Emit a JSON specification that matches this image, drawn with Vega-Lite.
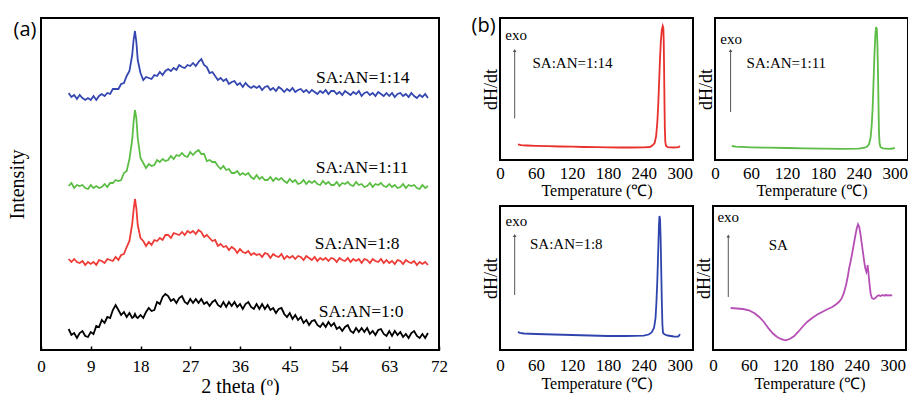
{
"$schema":"https://vega.github.io/schema/vega-lite/v6.json",
"background":"white",
"padding":{"left":6,"top":15,"right":0,"bottom":0},
"datasets":{
"xrd":[
{"t":5,"b":257,"g":164,"r":91,"k":21},{"t":5.5,"b":253,"g":167,"r":88,"k":15},{"t":6,"b":255,"g":162,"r":91,"k":17},{"t":6.5,"b":251,"g":165,"r":88,"k":12},{"t":7,"b":255,"g":164,"r":87,"k":17},{"t":7.5,"b":252,"g":165,"r":89,"k":19},{"t":8,"b":250,"g":162,"r":85,"k":14},{"t":8.5,"b":252,"g":161,"r":88,"k":13},{"t":9,"b":250,"g":165,"r":86,"k":18},{"t":9.5,"b":254,"g":162,"r":88,"k":16},
{"t":10,"b":250,"g":164,"r":85,"k":24},{"t":10.5,"b":254,"g":162,"r":90,"k":23},{"t":11,"b":256,"g":163,"r":89,"k":30},{"t":11.5,"b":254,"g":166,"r":87,"k":27},{"t":12,"b":257,"g":163,"r":91,"k":33},{"t":12.5,"b":256,"g":167,"r":90,"k":32},{"t":13,"b":261,"g":167,"r":89,"k":40},{"t":13.5,"b":261,"g":170,"r":93,"k":45},{"t":14,"b":261,"g":169,"r":90,"k":40},{"t":14.5,"b":266,"g":170,"r":95,"k":35},
{"t":15,"b":267,"g":177,"r":96,"k":38},{"t":15.5,"b":274,"g":179,"r":103,"k":33},{"t":16,"b":279,"g":191,"r":109,"k":37},{"t":16.5,"b":295,"g":210,"r":126,"k":32},{"t":16.75,"b":310,"g":228,"r":140,"k":33},{"t":17,"b":319,"g":240,"r":151,"k":36},{"t":17.25,"b":308,"g":232,"r":142,"k":33},{"t":17.5,"b":290,"g":212,"r":125,"k":32},{"t":18,"b":277,"g":192,"r":112,"k":35},{"t":18.5,"b":270,"g":187,"r":109,"k":32},
{"t":19,"b":273,"g":182,"r":104,"k":38},{"t":19.5,"b":272,"g":186,"r":108,"k":42},{"t":20,"b":271,"g":184,"r":105,"k":39},{"t":20.5,"b":275,"g":185,"r":110,"k":40},{"t":21,"b":274,"g":190,"r":109,"k":48},{"t":21.5,"b":278,"g":188,"r":112,"k":46},{"t":22,"b":275,"g":191,"r":110,"k":53},{"t":22.5,"b":279,"g":189,"r":115,"k":56},{"t":23,"b":281,"g":190,"r":115,"k":54},{"t":23.5,"b":279,"g":194,"r":112,"k":49},
{"t":24,"b":282,"g":191,"r":117,"k":51},{"t":24.5,"b":280,"g":195,"r":116,"k":47},{"t":25,"b":285,"g":194,"r":115,"k":52},{"t":25.5,"b":283,"g":197,"r":118,"k":54},{"t":26,"b":282,"g":194,"r":115,"k":48},{"t":26.5,"b":285,"g":193,"r":119,"k":46},{"t":27,"b":284,"g":198,"r":117,"k":51},{"t":27.5,"b":287,"g":195,"r":119,"k":47},{"t":28,"b":284,"g":198,"r":116,"k":51},{"t":28.5,"b":288,"g":200,"r":120,"k":47},
{"t":29,"b":291,"g":196,"r":118,"k":51},{"t":29.5,"b":285,"g":196,"r":113,"k":46},{"t":30,"b":283,"g":189,"r":115,"k":48},{"t":30.5,"b":277,"g":190,"r":112,"k":44},{"t":31,"b":278,"g":188,"r":109,"k":48},{"t":31.5,"b":274,"g":188,"r":110,"k":50},{"t":32,"b":270,"g":184,"r":104,"k":45},{"t":32.5,"b":272,"g":181,"r":106,"k":43},{"t":33,"b":269,"g":184,"r":103,"k":48},{"t":33.5,"b":271,"g":180,"r":104,"k":43},
{"t":34,"b":266,"g":181,"r":100,"k":48},{"t":34.5,"b":268,"g":177,"r":103,"k":44},{"t":35,"b":269,"g":177,"r":101,"k":48},{"t":35.5,"b":265,"g":179,"r":97,"k":43},{"t":36,"b":267,"g":175,"r":101,"k":46},{"t":36.5,"b":263,"g":177,"r":98,"k":41},{"t":37,"b":267,"g":175,"r":97,"k":46},{"t":37.5,"b":264,"g":177,"r":99,"k":48},{"t":38,"b":262,"g":173,"r":95,"k":43},{"t":38.5,"b":264,"g":171,"r":97,"k":41},
{"t":39,"b":262,"g":175,"r":95,"k":46},{"t":39.5,"b":264,"g":171,"r":96,"k":41},{"t":40,"b":260,"g":173,"r":93,"k":46},{"t":40.5,"b":263,"g":170,"r":97,"k":41},{"t":41,"b":264,"g":170,"r":96,"k":45},{"t":41.5,"b":260,"g":173,"r":92,"k":40},{"t":42,"b":262,"g":169,"r":96,"k":42},{"t":42.5,"b":259,"g":172,"r":94,"k":37},{"t":43,"b":263,"g":170,"r":93,"k":41},{"t":43.5,"b":261,"g":172,"r":96,"k":42},
{"t":44,"b":258,"g":169,"r":91,"k":36},{"t":44.5,"b":261,"g":167,"r":94,"k":33},{"t":45,"b":259,"g":171,"r":92,"k":37},{"t":45.5,"b":262,"g":168,"r":94,"k":31},{"t":46,"b":258,"g":170,"r":91,"k":35},{"t":46.5,"b":260,"g":166,"r":94,"k":30},{"t":47,"b":261,"g":167,"r":93,"k":33},{"t":47.5,"b":258,"g":170,"r":90,"k":27},{"t":48,"b":260,"g":166,"r":94,"k":30},{"t":48.5,"b":257,"g":169,"r":92,"k":25},
{"t":49,"b":260,"g":167,"r":90,"k":29},{"t":49.5,"b":258,"g":169,"r":93,"k":30},{"t":50,"b":256,"g":166,"r":89,"k":25},{"t":50.5,"b":259,"g":165,"r":92,"k":23},{"t":51,"b":257,"g":169,"r":90,"k":27},{"t":51.5,"b":260,"g":166,"r":92,"k":23},{"t":52,"b":256,"g":168,"r":89,"k":28},{"t":52.5,"b":259,"g":165,"r":92,"k":24},{"t":53,"b":259,"g":165,"r":91,"k":27},{"t":53.5,"b":256,"g":168,"r":88,"k":21},
{"t":54,"b":258,"g":164,"r":92,"k":23},{"t":54.5,"b":255,"g":167,"r":90,"k":19},{"t":55,"b":259,"g":166,"r":89,"k":23},{"t":55.5,"b":257,"g":168,"r":92,"k":25},{"t":56,"b":255,"g":165,"r":88,"k":19},{"t":56.5,"b":258,"g":164,"r":91,"k":17},{"t":57,"b":256,"g":168,"r":89,"k":22},{"t":57.5,"b":259,"g":165,"r":91,"k":18},{"t":58,"b":254,"g":166,"r":87,"k":22},{"t":58.5,"b":257,"g":163,"r":91,"k":18},
{"t":59,"b":258,"g":164,"r":90,"k":22},{"t":59.5,"b":255,"g":167,"r":87,"k":16},{"t":60,"b":257,"g":163,"r":91,"k":19},{"t":60.5,"b":254,"g":166,"r":89,"k":15},{"t":61,"b":258,"g":165,"r":88,"k":20},{"t":61.5,"b":256,"g":167,"r":91,"k":21},{"t":62,"b":254,"g":164,"r":87,"k":16},{"t":62.5,"b":257,"g":163,"r":90,"k":14},{"t":63,"b":254,"g":166,"r":87,"k":19},{"t":63.5,"b":257,"g":163,"r":89,"k":14},
{"t":64,"b":253,"g":165,"r":86,"k":19},{"t":64.5,"b":256,"g":162,"r":90,"k":15},{"t":65,"b":257,"g":163,"r":89,"k":18},{"t":65.5,"b":254,"g":166,"r":86,"k":13},{"t":66,"b":256,"g":162,"r":90,"k":16},{"t":66.5,"b":253,"g":165,"r":88,"k":12},{"t":67,"b":257,"g":164,"r":87,"k":17},{"t":67.5,"b":254,"g":165,"r":89,"k":19},{"t":68,"b":252,"g":162,"r":85,"k":14},{"t":68.5,"b":255,"g":161,"r":88,"k":12},
{"t":69,"b":253,"g":165,"r":86,"k":16},{"t":69.5,"b":256,"g":162,"r":88,"k":12},{"t":70,"b":252,"g":164,"r":85,"k":17}
],
"d1":[{"T":30,"v":15.6},{"T":35,"v":14.8},{"T":45,"v":14.5},{"T":60,"v":14.2},{"T":80,"v":13.8},{"T":100,"v":13.5},{"T":120,"v":13.3},{"T":140,"v":13},{"T":160,"v":12.8},{"T":180,"v":12.6},{"T":200,"v":12.5},{"T":220,"v":12.5},{"T":240,"v":12.6},{"T":250,"v":13},{"T":254,"v":14.5},{"T":258,"v":17},{"T":260.5,"v":24},{"T":262.5,"v":38},{"T":264,"v":55},{"T":265.5,"v":78},{"T":267,"v":102},{"T":268.5,"v":120},{"T":270,"v":130},{"T":271.5,"v":134},{"T":272.5,"v":132},{"T":273.2,"v":118},{"T":273.8,"v":90},{"T":274.4,"v":58},{"T":275,"v":32},{"T":275.8,"v":18},{"T":277,"v":14},{"T":280,"v":12.8},{"T":290,"v":12.5},{"T":298,"v":12.8},{"T":300,"v":14}],
"d2":[{"T":28,"v":14},{"T":35,"v":13.3},{"T":60,"v":12.7},{"T":90,"v":12.3},{"T":120,"v":12},{"T":150,"v":11.6},{"T":180,"v":11.3},{"T":210,"v":11.2},{"T":240,"v":11.3},{"T":250,"v":12.3},{"T":254,"v":13.5},{"T":257,"v":16},{"T":259.5,"v":22},{"T":261.5,"v":35},{"T":263,"v":52},{"T":264.5,"v":78},{"T":266,"v":105},{"T":267.5,"v":125},{"T":268.8,"v":133},{"T":270,"v":131},{"T":271,"v":115},{"T":272,"v":85},{"T":272.8,"v":55},{"T":273.5,"v":30},{"T":274.5,"v":17},{"T":276,"v":13},{"T":280,"v":11.6},{"T":290,"v":11.2},{"T":297,"v":11.5},{"T":300,"v":12.5}],
"d3":[{"T":30,"v":18.3},{"T":33,"v":17},{"T":40,"v":16.5},{"T":60,"v":16},{"T":90,"v":15.5},{"T":120,"v":15},{"T":150,"v":14.5},{"T":180,"v":14},{"T":210,"v":14},{"T":240,"v":14.3},{"T":248,"v":15.5},{"T":253,"v":17.5},{"T":257,"v":22},{"T":259.5,"v":32},{"T":261,"v":48},{"T":262.5,"v":70},{"T":264,"v":100},{"T":265.2,"v":125},{"T":266,"v":134},{"T":267,"v":131},{"T":268,"v":112},{"T":269,"v":80},{"T":270,"v":48},{"T":271,"v":25},{"T":272,"v":17},{"T":275,"v":15.5},{"T":280,"v":14.5},{"T":290,"v":13.5},{"T":297,"v":13.3},{"T":299,"v":14.5},{"T":300,"v":16}],
"d4":[{"T":29.5,"v":42},{"T":40,"v":41.5},{"T":50,"v":41},{"T":60,"v":39.7},{"T":70,"v":36.5},{"T":77,"v":33},{"T":85,"v":28},{"T":93,"v":21.3},{"T":100,"v":16.5},{"T":107,"v":13},{"T":114,"v":10.8},{"T":121,"v":9.7},{"T":128,"v":11},{"T":135,"v":13.7},{"T":142,"v":18},{"T":149,"v":23},{"T":157,"v":28},{"T":166,"v":32.3},{"T":174,"v":35.5},{"T":182,"v":38},{"T":190,"v":40.5},{"T":199,"v":43},{"T":205,"v":45.5},{"T":210,"v":48},{"T":214,"v":51},{"T":218,"v":56.3},{"T":222,"v":65},{"T":225,"v":74},{"T":227,"v":81.3},{"T":229,"v":87},{"T":232,"v":96},{"T":235,"v":106},{"T":238,"v":116},{"T":240,"v":122},{"T":242,"v":125.7},{"T":244,"v":123},{"T":246,"v":116},{"T":249,"v":103},{"T":252,"v":89.7},{"T":254,"v":82},{"T":256,"v":78},{"T":257,"v":80},{"T":258,"v":85},{"T":259,"v":79},{"T":260,"v":73},{"T":261.5,"v":64},{"T":263,"v":56.3},{"T":265,"v":52},{"T":268,"v":51},{"T":271,"v":52},{"T":274,"v":54},{"T":277,"v":54.7},{"T":280,"v":54},{"T":283,"v":55},{"T":286,"v":54.2},{"T":288,"v":55},{"T":292,"v":54.5},{"T":296,"v":54.8},{"T":299,"v":54.3}]
},
"hconcat":[
{
"width":398,"height":332,
"layer":[
{"data":{"name":"xrd"},"transform":[{"fold":["b","g","r","k"],"as":["s","v"]}],
 "mark":{"type":"line","strokeWidth":1.8,"clip":true},
 "encoding":{
  "x":{"field":"t","type":"quantitative","scale":{"domain":[0,72],"nice":false,"zero":false},
       "axis":{"title":"2 theta (º)","values":[0,9,18,27,36,45,54,63,72],"tickCount":9,"tickSize":-4,"tickColor":"#000","tickWidth":1.5,"labelFontSize":17,"labelPadding":12,"labelOverlap":false,"titleFontSize":20,"titlePadding":2}},
  "y":{"field":"v","type":"quantitative","scale":{"domain":[0,332],"nice":false,"zero":false},
       "axis":{"title":"Intensity","labels":false,"ticks":false,"titleFontSize":20,"titlePadding":14}},
  "color":{"field":"s","type":"nominal","scale":{"domain":["b","g","r","k"],"range":["#3446b0","#5cbd45","#ef3b36","#000000"]},"legend":null}
 }},
{"data":{"values":[{"t":58.2,"v":272,"lab":"SA:AN=1:14"},{"t":58.1,"v":182,"lab":"SA:AN=1:11"},{"t":57.2,"v":106,"lab":"SA:AN=1:8"},{"t":57.9,"v":38,"lab":"SA:AN=1:0"}]},
 "mark":{"type":"text","fontSize":17.5,"font":"Liberation Serif","color":"#000"},
 "encoding":{"x":{"field":"t","type":"quantitative"},"y":{"field":"v","type":"quantitative"},"text":{"field":"lab"}}},
{"data":{"values":[{"t":-2.9,"v":320,"lab":"(a)"}]},
 "mark":{"type":"text","fontSize":20,"font":"Open Sans","color":"#000"},
 "encoding":{"x":{"field":"t","type":"quantitative"},"y":{"field":"v","type":"quantitative"},"text":{"field":"lab"}}}
]
},
{
"vconcat":[
{"hconcat":[
{"width":193,"height":142,
 "layer":[
 {"data":{"name":"d1"},"mark":{"type":"line","color":"#e8302c","strokeWidth":1.8},
  "encoding":{"x":{"field":"T","type":"quantitative","scale":{"domain":[0,322],"nice":false,"zero":false},"axis":{"title":"Temperature (℃)","values":[0,60,120,180,240,300],"tickCount":6,"ticks":false,"labelFontSize":17,"labelPadding":5,"labelOverlap":false,"titleFontSize":16,"titlePadding":1}},
              "y":{"field":"v","type":"quantitative","scale":{"domain":[0,142],"nice":false,"zero":false},"axis":{"title":"dH/dt","labels":false,"ticks":false,"titleFontSize":18,"titlePadding":0}}}},
 {"data":{"values":[{"T":24.5,"v":41.6,"v2":109}]},"mark":{"type":"rule","color":"#555","strokeWidth":1},"encoding":{"x":{"field":"T","type":"quantitative"},"y":{"field":"v","type":"quantitative"},"y2":{"field":"v2"}}},
 {"data":{"values":[{"T":24.5,"v":109.5}]},"mark":{"type":"point","shape":"triangle-up","filled":true,"color":"#555","size":14,"opacity":1},"encoding":{"x":{"field":"T","type":"quantitative"},"y":{"field":"v","type":"quantitative"}}},
 {"data":{"values":[{"T":27,"v":125,"s":"exo"},{"T":121,"v":97,"s":"SA:AN=1:14"}]},"mark":{"type":"text","font":"Liberation Serif","color":"#000","fontSize":15},"encoding":{"x":{"field":"T","type":"quantitative"},"y":{"field":"v","type":"quantitative"},"text":{"field":"s"}}},
 {"data":{"values":[{"T":-27.5,"v":133.8,"s":"(b)"}]},"mark":{"type":"text","font":"Open Sans","color":"#000","fontSize":20},"encoding":{"x":{"field":"T","type":"quantitative"},"y":{"field":"v","type":"quantitative"},"text":{"field":"s"}}}
 ]},
{"width":193,"height":142,
 "layer":[
 {"data":{"name":"d2"},"mark":{"type":"line","color":"#5cbc46","strokeWidth":1.8},
  "encoding":{"x":{"field":"T","type":"quantitative","scale":{"domain":[0,322],"nice":false,"zero":false},"axis":{"title":"Temperature (℃)","values":[0,60,120,180,240,300],"tickCount":6,"ticks":false,"labelFontSize":17,"labelPadding":5,"labelOverlap":false,"titleFontSize":16,"titlePadding":1}},
              "y":{"field":"v","type":"quantitative","scale":{"domain":[0,142],"nice":false,"zero":false},"axis":{"title":"dH/dt","labels":false,"ticks":false,"titleFontSize":18,"titlePadding":0}}}},
 {"data":{"values":[{"T":26,"v":48,"v2":109}]},"mark":{"type":"rule","color":"#555","strokeWidth":1},"encoding":{"x":{"field":"T","type":"quantitative"},"y":{"field":"v","type":"quantitative"},"y2":{"field":"v2"}}},
 {"data":{"values":[{"T":26,"v":109.5}]},"mark":{"type":"point","shape":"triangle-up","filled":true,"color":"#555","size":14,"opacity":1},"encoding":{"x":{"field":"T","type":"quantitative"},"y":{"field":"v","type":"quantitative"}}},
 {"data":{"values":[{"T":27,"v":121.3,"s":"exo"},{"T":119,"v":97,"s":"SA:AN=1:11"}]},"mark":{"type":"text","font":"Liberation Serif","color":"#000","fontSize":15},"encoding":{"x":{"field":"T","type":"quantitative"},"y":{"field":"v","type":"quantitative"},"text":{"field":"s"}}}
 ]}
],"spacing":2},
{"hconcat":[
{"width":193,"height":144,
 "layer":[
 {"data":{"name":"d3"},"mark":{"type":"line","color":"#2f45ad","strokeWidth":1.8},
  "encoding":{"x":{"field":"T","type":"quantitative","scale":{"domain":[0,322],"nice":false,"zero":false},"axis":{"title":"Temperature (℃)","values":[0,60,120,180,240,300],"tickCount":6,"ticks":false,"labelFontSize":17,"labelPadding":7,"labelOverlap":false,"titleFontSize":16,"titlePadding":2}},
              "y":{"field":"v","type":"quantitative","scale":{"domain":[0,144],"nice":false,"zero":false},"axis":{"title":"dH/dt","labels":false,"ticks":false,"titleFontSize":18,"titlePadding":0}}}},
 {"data":{"values":[{"T":24.5,"v":55,"v2":114.5}]},"mark":{"type":"rule","color":"#555","strokeWidth":1},"encoding":{"x":{"field":"T","type":"quantitative"},"y":{"field":"v","type":"quantitative"},"y2":{"field":"v2"}}},
 {"data":{"values":[{"T":24.5,"v":114.5}]},"mark":{"type":"point","shape":"triangle-up","filled":true,"color":"#555","size":14,"opacity":1},"encoding":{"x":{"field":"T","type":"quantitative"},"y":{"field":"v","type":"quantitative"}}},
 {"data":{"values":[{"T":27.2,"v":129,"s":"exo"},{"T":110.6,"v":105.7,"s":"SA:AN=1:8"}]},"mark":{"type":"text","font":"Liberation Serif","color":"#000","fontSize":15},"encoding":{"x":{"field":"T","type":"quantitative"},"y":{"field":"v","type":"quantitative"},"text":{"field":"s"}}}
 ]},
{"width":193,"height":144,
 "layer":[
 {"data":{"name":"d4"},"mark":{"type":"line","color":"#b64fb5","strokeWidth":1.8},
  "encoding":{"x":{"field":"T","type":"quantitative","scale":{"domain":[0,322],"nice":false,"zero":false},"axis":{"title":"Temperature (℃)","values":[0,60,120,180,240,300],"tickCount":6,"ticks":false,"labelFontSize":17,"labelPadding":7,"labelOverlap":false,"titleFontSize":16,"titlePadding":2}},
              "y":{"field":"v","type":"quantitative","scale":{"domain":[0,144],"nice":false,"zero":false},"axis":{"title":"dH/dt","labels":false,"ticks":false,"titleFontSize":18,"titlePadding":0}}}},
 {"data":{"values":[{"T":25.5,"v":53,"v2":114}]},"mark":{"type":"rule","color":"#555","strokeWidth":1},"encoding":{"x":{"field":"T","type":"quantitative"},"y":{"field":"v","type":"quantitative"},"y2":{"field":"v2"}}},
 {"data":{"values":[{"T":25.5,"v":114}]},"mark":{"type":"point","shape":"triangle-up","filled":true,"color":"#555","size":14,"opacity":1},"encoding":{"x":{"field":"T","type":"quantitative"},"y":{"field":"v","type":"quantitative"}}},
 {"data":{"values":[{"T":25.5,"v":133,"s":"exo"},{"T":109,"v":104.7,"s":"SA"}]},"mark":{"type":"text","font":"Liberation Serif","color":"#000","fontSize":15},"encoding":{"x":{"field":"T","type":"quantitative"},"y":{"field":"v","type":"quantitative"},"text":{"field":"s"}}}
 ]}
],"spacing":0}
],"spacing":6}
],
"spacing":21,
"config":{
 "view":{"stroke":"#000","strokeWidth":2},
 "font":"Liberation Serif",
 "axis":{"labelFont":"Liberation Serif","titleFont":"Liberation Serif","labelColor":"#000","titleColor":"#000","titleFontWeight":"normal","grid":false,"domain":false,"labelFlush":false,"labelOverlap":false}
}
}
